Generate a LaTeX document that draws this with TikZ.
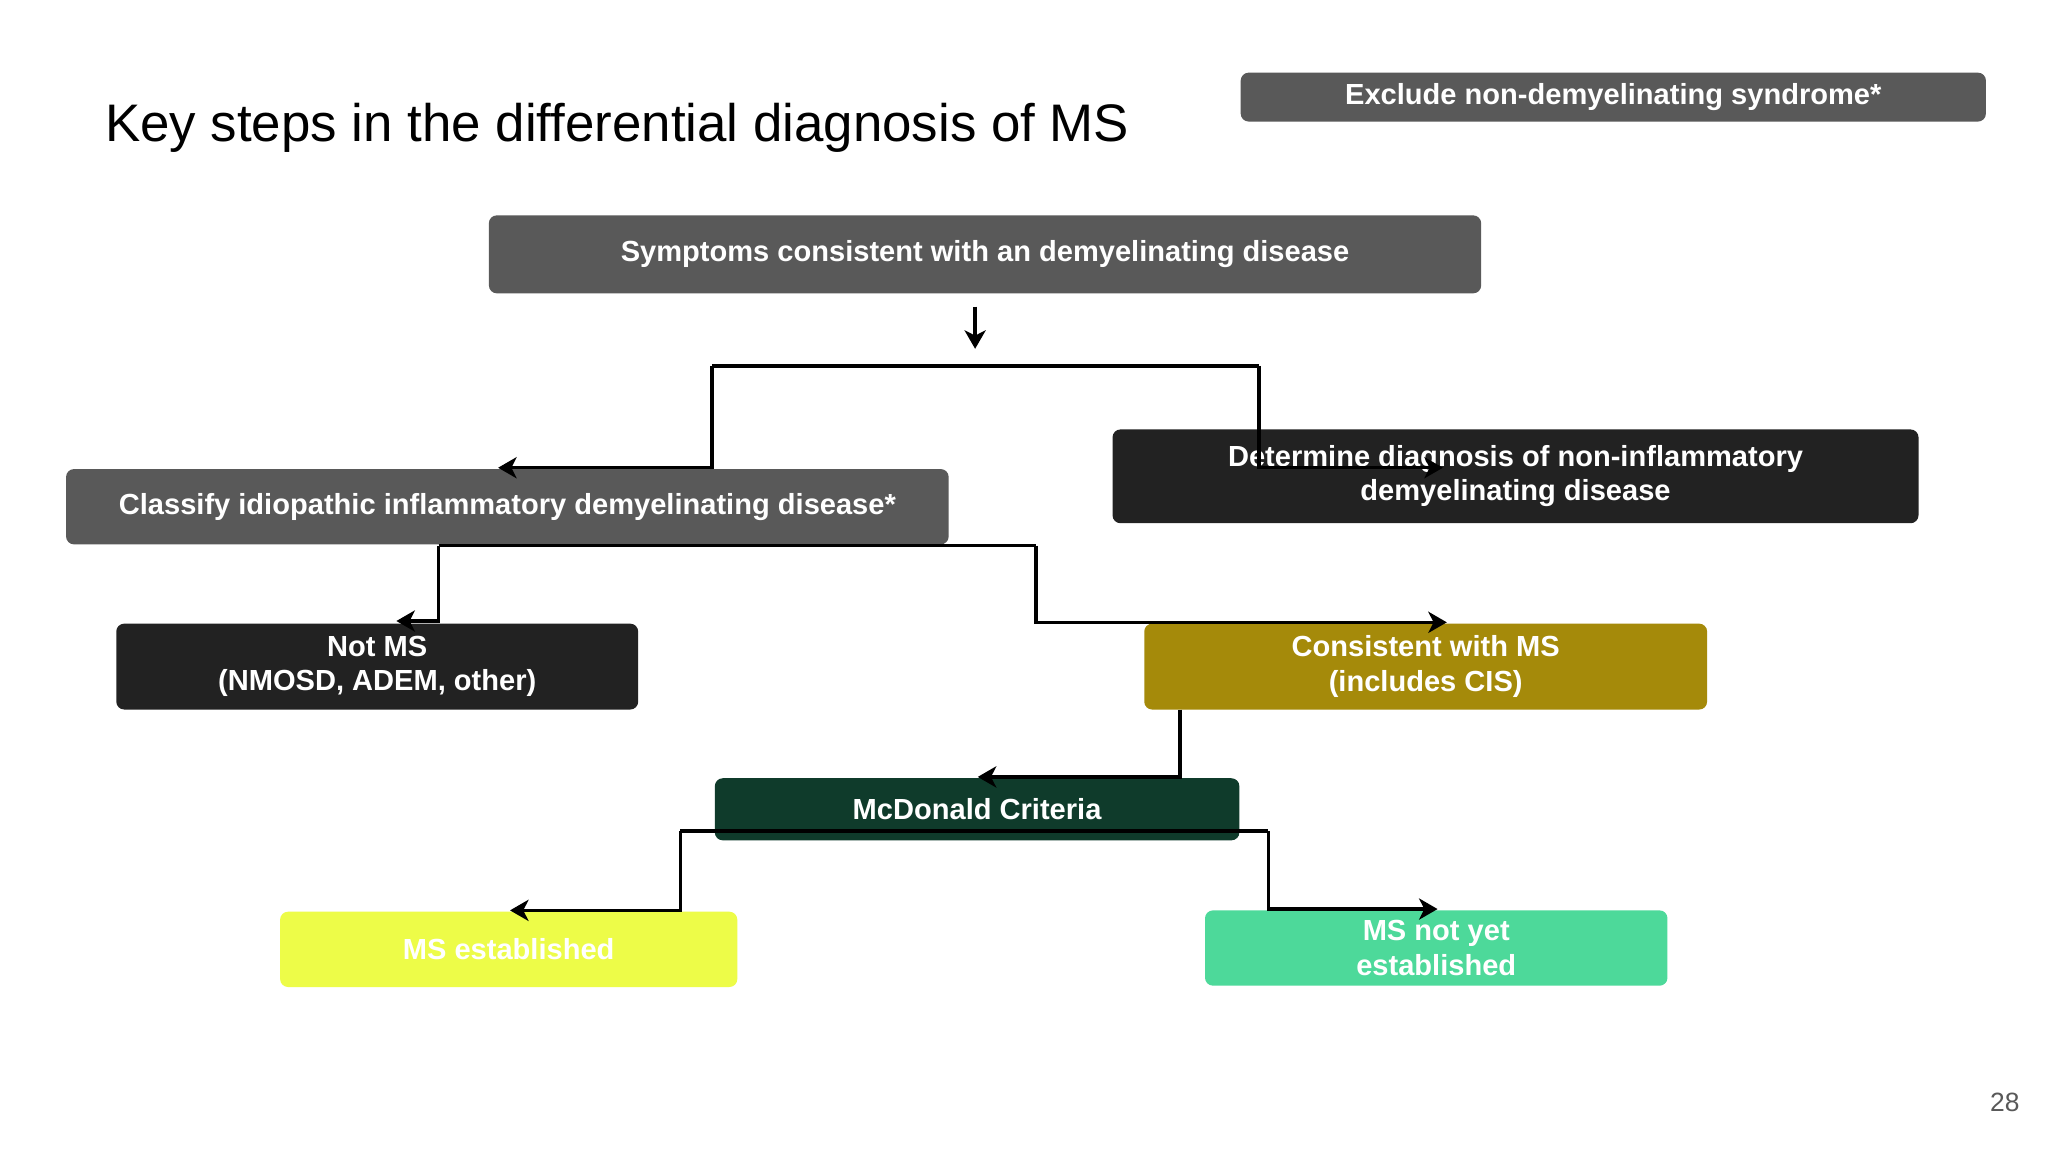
\documentclass[tikz,border=0pt]{standalone}
\usepackage{fontspec}
\setmainfont{Liberation Sans}
\usetikzlibrary{arrows.meta}
\definecolor{gr}{HTML}{595959}
\definecolor{bk}{HTML}{222222}
\definecolor{ol}{HTML}{A58A0A}
\definecolor{dg}{HTML}{0F3B2B}
\definecolor{ye}{HTML}{EDFC48}
\definecolor{mn}{HTML}{4DD99A}
\begin{document}
\begin{tikzpicture}[x=1pt,y=-1pt,
 box/.style={rounded corners=6pt,text=white,font=\fontsize{22}{26}\selectfont\bfseries,align=center},
 con/.style={line width=2.6pt,-{Stealth[length=14pt,width=16pt,inset=4pt]}}]
\useasboundingbox (0,0) rectangle (1550,872);
\fill[white] (0,0) rectangle (1550,872);
\node[anchor=west,font=\fontsize{40}{46}\selectfont] (title) at (76,97) {Key steps in the differential diagnosis of MS};
\node[anchor=east,font=\fontsize{20}{24}\selectfont,text=gr] (pg) at (1532,834) {28};
\newcommand\bx[7]{\fill[#6,rounded corners=6pt] (#2,#3) rectangle (#4,#5); \node[box] (#1) at ({(#2+#4)/2},{(#3+#5)/2}) {#7};}
\bx{ex}{939}{55}{1503}{92}{gr}{Exclude non-demyelinating syndrome*}
\bx{sy}{370}{163}{1121}{222}{gr}{Symptoms consistent with an demyelinating disease}
\bx{cl}{50}{355}{718}{412}{gr}{Classify idiopathic inflammatory demyelinating disease*}
\bx{de}{842}{325}{1452}{396}{bk}{Determine diagnosis of non-inflammatory\\demyelinating disease}
\bx{nm}{88}{472}{483}{537}{bk}{Not MS\\(NMOSD, ADEM, other)}
\bx{co}{866}{472}{1292}{537}{ol}{Consistent with MS\\(includes CIS)}
\bx{mc}{541}{589}{938}{636}{dg}{McDonald Criteria}
\bx{me}{212}{690}{558}{747}{ye}{MS established}
\bx{mn}{912}{689}{1262}{746}{mn}{MS not yet\\established}
\coordinate (a1) at (738,232); \coordinate (a2) at (738,264);
\draw[con] (a1) -- (a2);
\coordinate (b1) at (539,277); \coordinate (b2) at (953,277);
\coordinate (bl) at (377,354); \coordinate (br) at (1092,354);
\draw[line width=2.6pt] (b1) -- (b2);
\draw[con] (b1) |- (bl);
\draw[con] (b2) |- (br);
\coordinate (c1) at (332,413); \coordinate (c2) at (784,413);
\coordinate (cl2) at (300,470); \coordinate (cr) at (1095,471);
\draw[line width=2.6pt] (c1) -- (c2);
\draw[con] (c1) |- (cl2);
\draw[con] (c2) |- (cr);
\coordinate (d1) at (893,537); \coordinate (d2) at (740,588);
\draw[con] (d1) |- (d2);
\coordinate (e1) at (515,629); \coordinate (e2) at (960,629);
\coordinate (el) at (386,689); \coordinate (er) at (1088,688);
\draw[line width=2.6pt] (e1) -- (e2);
\draw[con] (e1) |- (el);
\draw[con] (e2) |- (er);
\end{tikzpicture}
\end{document}
